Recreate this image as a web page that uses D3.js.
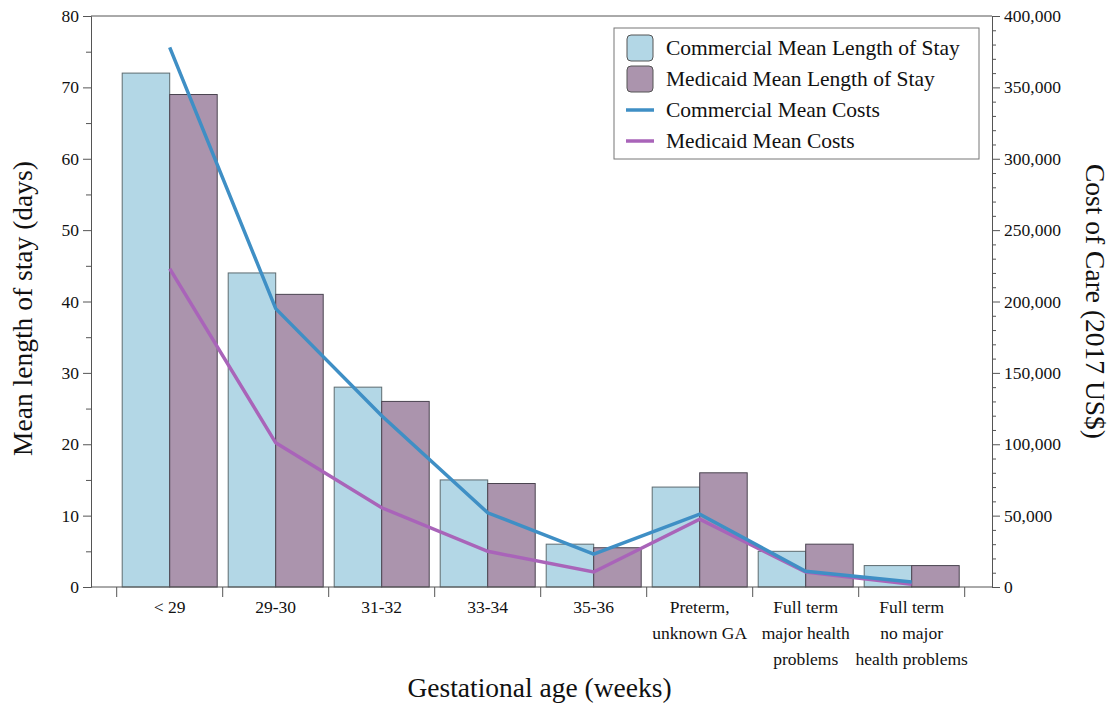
<!DOCTYPE html>
<html>
<head>
<meta charset="utf-8">
<script src="https://cdn.jsdelivr.net/npm/d3@7"></script>
<style>
  body { margin: 0; background: #fff; }
  svg text { font-family: "Liberation Serif", "DejaVu Serif", serif; fill: #111; }
</style>
</head>
<body>
<svg width="1114" height="704"></svg>
<script>
const width = 1114;
const height = 704;

// data
var categories = ["< 29", "29-30", "31-32", "33-34", "35-36",
  "Preterm,\nunknown GA", "Full term\nmajor health\nproblems", "Full term\nno major\nhealth problems"];
var commercialStay = [72, 44, 28, 15, 6, 14, 5, 3];
var medicaidStay   = [69, 41, 26, 14.5, 5.5, 16, 6, 3];
var commercialCost = [378000, 195000, 120000, 52000, 23000, 51000, 11000, 3500];
var medicaidCost   = [223000, 101000, 55500, 25000, 10500, 47500, 10500, 2000];
var legendLabels = ["Commercial Mean Length of Stay", "Medicaid Mean Length of Stay",
  "Commercial Mean Costs", "Medicaid Mean Costs"];

var colors = {
  comBar: "#b3d7e6",
  medBar: "#ab94ad",
  comLine: "#3f8fc5",
  medLine: "#a964b9"
};

var plotLeft = 91, plotRight = 992, plotTop = 16, plotBottom = 587;

var svg = d3.select("svg");

var x = d3.scaleBand().domain(categories).range([116.7, 964.7]).padding(0);
var xs = d3.scaleBand().domain(["com", "med"]).range([5.5, x.bandwidth() - 5.5]);
var yL = d3.scaleLinear().domain([0, 80]).range([plotBottom, plotTop]);
var yR = d3.scaleLinear().domain([0, 400000]).range([plotBottom, plotTop]);

// bars
var groups = svg.append("g").selectAll("g")
  .data(categories)
  .join("g")
  .attr("transform", function(d) { return "translate(" + x(d) + ",0)"; });

groups.append("rect")
  .attr("x", xs("com"))
  .attr("width", xs.bandwidth())
  .attr("y", function(d, i) { return yL(commercialStay[i]); })
  .attr("height", function(d, i) { return plotBottom - yL(commercialStay[i]); })
  .attr("fill", colors.comBar)
  .attr("stroke", "#5d6b70")
  .attr("stroke-width", 1);

groups.append("rect")
  .attr("x", xs("med"))
  .attr("width", xs.bandwidth())
  .attr("y", function(d, i) { return yL(medicaidStay[i]); })
  .attr("height", function(d, i) { return plotBottom - yL(medicaidStay[i]); })
  .attr("fill", colors.medBar)
  .attr("stroke", "#4a4450")
  .attr("stroke-width", 1);

// lines
var line = function(vals) {
  return d3.line()
    .x(function(d, i) { return x(categories[i]) + x.bandwidth() / 2; })
    .y(function(d) { return yR(d); })(vals);
};

svg.append("path")
  .attr("d", line(medicaidCost))
  .attr("fill", "none")
  .attr("stroke", colors.medLine)
  .attr("stroke-width", 3.5);

svg.append("path")
  .attr("d", line(commercialCost))
  .attr("fill", "none")
  .attr("stroke", colors.comLine)
  .attr("stroke-width", 3.5);

// axes
var axisColor = "#555";

svg.append("g")
  .attr("transform", "translate(" + plotLeft + ",0)")
  .call(d3.axisLeft(yL).tickValues(d3.range(0, 81, 10)).tickSize(8).tickSizeOuter(0).tickPadding(4));
svg.append("g")
  .attr("transform", "translate(" + plotLeft + ",0)")
  .call(d3.axisLeft(yL).tickValues(d3.range(5, 80, 10)).tickSize(5).tickSizeOuter(0).tickFormat(""));

svg.append("g")
  .attr("transform", "translate(" + plotRight + ",0)")
  .call(d3.axisRight(yR).tickValues(d3.range(0, 400001, 50000)).tickSize(8).tickSizeOuter(0)
    .tickPadding(4).tickFormat(d3.format(",")));
svg.append("g")
  .attr("transform", "translate(" + plotRight + ",0)")
  .call(d3.axisRight(yR).tickValues(d3.range(10000, 400000, 10000).filter(function(v) { return v % 50000 != 0; }))
    .tickSize(4).tickSizeOuter(0).tickFormat(""));

svg.selectAll(".domain, .tick line").attr("stroke", axisColor);
svg.selectAll(".tick text").attr("font-size", 17.5).attr("font-family", "Liberation Serif, serif").attr("fill", "#111");

// frame: top and bottom
svg.append("line").attr("x1", plotLeft).attr("x2", plotRight).attr("y1", plotTop).attr("y2", plotTop).attr("stroke", axisColor);
svg.append("line").attr("x1", plotLeft).attr("x2", plotRight).attr("y1", plotBottom).attr("y2", plotBottom).attr("stroke", axisColor);

// x ticks at group boundaries
var bounds = categories.map(function(d) { return x(d); }).concat([x.range()[1]]);
svg.append("g").selectAll("line")
  .data(bounds)
  .join("line")
  .attr("x1", function(d) { return d; })
  .attr("x2", function(d) { return d; })
  .attr("y1", plotBottom)
  .attr("y2", plotBottom + 10)
  .attr("stroke", axisColor);

// category labels
var catLabels = svg.append("g").selectAll("text")
  .data(categories)
  .join("text")
  .attr("text-anchor", "middle")
  .attr("font-size", 17.5)
  .attr("x", function(d) { return x(d) + x.bandwidth() / 2; });
catLabels.selectAll("tspan")
  .data(function(d) { return d.split("\n"); })
  .join("tspan")
  .attr("x", function() { return this.parentNode.getAttribute("x"); })
  .attr("y", function(d, i) { return 613 + i * 26; })
  .text(function(d) { return d; });

// axis titles
svg.append("text")
  .attr("text-anchor", "middle")
  .attr("font-size", 27.5)
  .attr("x", (plotLeft + plotRight) / 2 - 2)
  .attr("y", 697)
  .text("Gestational age (weeks)");

svg.append("text")
  .attr("text-anchor", "middle")
  .attr("font-size", 27.5)
  .attr("transform", "translate(32," + ((plotTop + plotBottom) / 2 + 7) + ") rotate(-90)")
  .text("Mean length of stay (days)");

svg.append("text")
  .attr("text-anchor", "middle")
  .attr("font-size", 27.5)
  .attr("transform", "translate(1086," + ((plotTop + plotBottom) / 2) + ") rotate(90)")
  .text("Cost of Care (2017 US$)");

// legend
var legend = svg.append("g").attr("transform", "translate(614,28)");
legend.append("rect")
  .attr("width", 365).attr("height", 131)
  .attr("fill", "#fff").attr("stroke", "#777");

var items = legend.selectAll("g")
  .data(legendLabels)
  .join("g")
  .attr("transform", function(d, i) { return "translate(0," + (20 + i * 31) + ")"; });

items.filter(function(d, i) { return i < 2; })
  .append("rect")
  .attr("x", 13).attr("y", -13).attr("width", 26).attr("height", 26)
  .attr("rx", 4)
  .attr("fill", function(d, i) { return i == 0 ? colors.comBar : colors.medBar; })
  .attr("stroke", "#555");

items.filter(function(d, i) { return i >= 2; })
  .append("line")
  .attr("x1", 12).attr("x2", 40)
  .attr("stroke", function(d, i) { return i == 0 ? colors.comLine : colors.medLine; })
  .attr("stroke-width", 3.5);

items.append("text")
  .attr("x", 52)
  .attr("y", 7)
  .attr("font-size", 21.5)
  .text(function(d) { return d; });
</script>
</body>
</html>
